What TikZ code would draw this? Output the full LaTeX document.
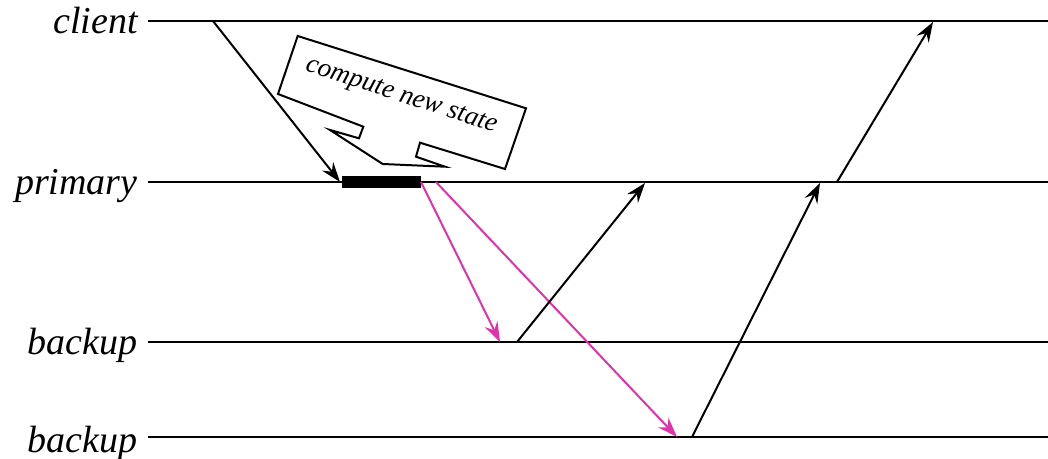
\documentclass[tikz,border=0pt]{standalone}
\usepackage{fontspec}
\setmainfont{Liberation Serif}
\usetikzlibrary{arrows.meta}
\definecolor{msgpink}{RGB}{222,51,170}
\tikzset{
  timeline/.style={line width=1pt},
  label/.style={anchor=base east, inner sep=0pt, font=\fontsize{19}{22}\selectfont\itshape},
  msg/.style={line width=1pt, -{Stealth[length=10pt, width=7pt, inset=3.5pt]}},
  upd/.style={msg, draw=msgpink},
  callout/.style={line width=1pt, fill=white, line join=miter},
}
\begin{document}
\begin{tikzpicture}[x=0.5pt, y=-0.5pt]
\useasboundingbox (0,0) rectangle (1048,459);
% time lines
\coordinate (cL) at (148,21);  \coordinate (cR) at (1048,21);
\coordinate (pL) at (148,182); \coordinate (pR) at (1048,182);
\coordinate (b1L) at (148,342); \coordinate (b1R) at (1048,342);
\coordinate (b2L) at (148,437); \coordinate (b2R) at (1048,437);
\draw[timeline] (cL) -- (cR);
\draw[timeline] (pL) -- (pR);
\draw[timeline] (b1L) -- (b1R);
\draw[timeline] (b2L) -- (b2R);
% labels
\node[label] (lc) at (138,34) {client};
\node[label] (lp) at (138,195) {primary};
\node[label] (lb1) at (138,355) {backup};
\node[label] (lb2) at (138,452) {backup};
% computation bar
\fill (342,176) rectangle (421,188);
% message endpoints
\coordinate (req0) at (213,21);  \coordinate (req1) at (340,182);
\coordinate (u10) at (421,182);  \coordinate (u11) at (500,342);
\coordinate (u20) at (436,182);  \coordinate (u21) at (677,437);
\coordinate (a10) at (517,342);  \coordinate (a11) at (645,183);
\coordinate (a20) at (692,437);  \coordinate (a21) at (820,183);
\coordinate (r0) at (837,182);   \coordinate (r1) at (933,22);
\draw[msg] (req0) -- (req1);
\draw[upd] (u10) -- (u11);
\draw[upd] (u20) -- (u21);
\draw[msg] (a10) -- (a11);
\draw[msg] (a20) -- (a21);
\draw[msg] (r0) -- (r1);
% callout
\draw[callout] (297.7,36) -- (526,108.3) -- (505,169) -- (420,142.7) -- (416,156.7)
  -- (445,166.7) -- (382.7,164) -- (330,130) -- (359,138.3) -- (363.3,126.7)
  -- (278,94) -- cycle;
\node[rotate=-18, inner sep=0pt, font=\fontsize{13.5}{16}\selectfont\itshape] (ct) at (401,97) {compute new state};
\end{tikzpicture}
\end{document}
